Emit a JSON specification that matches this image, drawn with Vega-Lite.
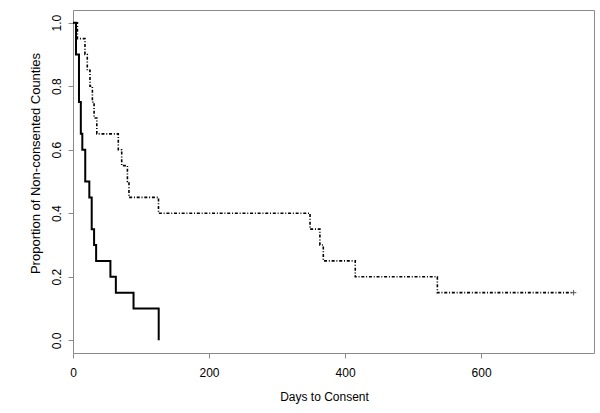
{
  "$schema": "https://vega.github.io/schema/vega-lite/v6.json",
  "width": 521,
  "height": 343,
  "autosize": {"type": "none"},
  "padding": {"left": 73, "top": 10, "right": 6, "bottom": 60},
  "background": "white",
  "config": {
    "view": {"stroke": "#8a8a8a", "strokeWidth": 1},
    "font": "Liberation Sans",
    "axis": {
      "domain": false,
      "grid": false,
      "tickColor": "#8a8a8a",
      "tickSize": 5,
      "labelFont": "Liberation Sans",
      "titleFont": "Liberation Sans",
      "labelFontSize": 12,
      "titleFontSize": 12,
      "titleFontWeight": "normal",
      "labelColor": "#000",
      "titleColor": "#000"
    }
  },
  "datasets": {
    "km": [
      {"group": "A", "day": 0, "surv": 1.0},
      {"group": "A", "day": 4.4, "surv": 0.9},
      {"group": "A", "day": 8.8, "surv": 0.75},
      {"group": "A", "day": 11.5, "surv": 0.65},
      {"group": "A", "day": 13.7, "surv": 0.6},
      {"group": "A", "day": 18, "surv": 0.5},
      {"group": "A", "day": 24, "surv": 0.45},
      {"group": "A", "day": 27.5, "surv": 0.35},
      {"group": "A", "day": 31, "surv": 0.3},
      {"group": "A", "day": 34, "surv": 0.25},
      {"group": "A", "day": 55, "surv": 0.2},
      {"group": "A", "day": 63, "surv": 0.15},
      {"group": "A", "day": 89, "surv": 0.1},
      {"group": "A", "day": 126, "surv": 0.0},
      {"group": "B", "day": 0, "surv": 1.0},
      {"group": "B", "day": 6.5, "surv": 0.95},
      {"group": "B", "day": 17.6, "surv": 0.9},
      {"group": "B", "day": 21, "surv": 0.85},
      {"group": "B", "day": 25, "surv": 0.8},
      {"group": "B", "day": 28.5, "surv": 0.75},
      {"group": "B", "day": 31, "surv": 0.7},
      {"group": "B", "day": 35, "surv": 0.65},
      {"group": "B", "day": 66.6, "surv": 0.6},
      {"group": "B", "day": 71.6, "surv": 0.55},
      {"group": "B", "day": 80, "surv": 0.5},
      {"group": "B", "day": 82.3, "surv": 0.45},
      {"group": "B", "day": 125.7, "surv": 0.4},
      {"group": "B", "day": 348.5, "surv": 0.35},
      {"group": "B", "day": 363, "surv": 0.3},
      {"group": "B", "day": 368, "surv": 0.25},
      {"group": "B", "day": 415, "surv": 0.2},
      {"group": "B", "day": 535.7, "surv": 0.15},
      {"group": "B", "day": 736, "surv": 0.15}
    ],
    "censored": [
      {"group": "B", "day": 736, "surv": 0.15}
    ]
  },
  "layer": [
    {
      "data": {"name": "km"},
      "transform": [{"filter": "datum.group === 'B'"}],
      "mark": {"type": "line", "interpolate": "step-after", "color": "#000", "strokeWidth": 1.6, "strokeDash": [1, 1.8, 3, 1.8]},
      "encoding": {
        "x": {"field": "day", "type": "quantitative", "scale": {"domain": [0, 766], "nice": false, "zero": false},
              "axis": {"values": [0, 200, 400, 600], "title": "Days to Consent", "labelPadding": 9, "titlePadding": 13, "labelFlush": false, "titleX": 251, "titleAlign": "center"}},
        "y": {"field": "surv", "type": "quantitative", "scale": {"domain": [-0.04, 1.04], "nice": false, "zero": false},
              "axis": {"values": [0, 0.2, 0.4, 0.6, 0.8, 1.0], "format": ".1f", "title": "Proportion of Non-consented Counties",
                       "labelAngle": -90, "labelAlign": "center", "labelBaseline": "bottom", "labelPadding": 5, "titlePadding": 8, "labelFlush": false, "titleY": 153, "titleAlign": "center", "titleFontSize": 13}},
        "order": {"field": "day", "type": "quantitative"}
      }
    },
    {
      "data": {"name": "km"},
      "transform": [{"filter": "datum.group === 'A'"}],
      "mark": {"type": "line", "interpolate": "step-after", "color": "#000", "strokeWidth": 2},
      "encoding": {
        "x": {"field": "day", "type": "quantitative"},
        "y": {"field": "surv", "type": "quantitative"},
        "order": {"field": "day", "type": "quantitative"}
      }
    },
    {
      "data": {"name": "censored"},
      "mark": {"type": "point", "shape": "M-1,0H1M0,-1V1", "size": 30, "stroke": "#555", "strokeWidth": 1, "filled": false, "opacity": 1},
      "encoding": {
        "x": {"field": "day", "type": "quantitative"},
        "y": {"field": "surv", "type": "quantitative"}
      }
    }
  ]
}
